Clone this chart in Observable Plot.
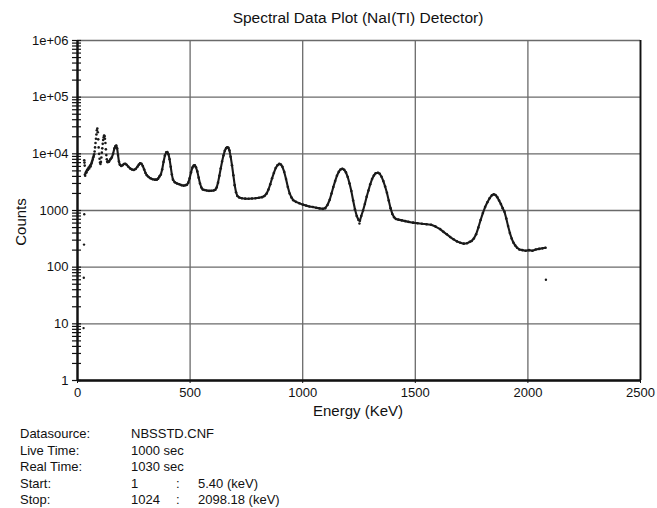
<!DOCTYPE html>
<html><head><meta charset="utf-8">
<script src="https://cdn.jsdelivr.net/npm/d3@7"></script>
<script src="https://cdn.jsdelivr.net/npm/@observablehq/plot@0.6"></script>
<style>
body{margin:0;background:#fff;font-family:"Liberation Sans",Arial,Helvetica,sans-serif;color:#111}
#wrap{position:relative;width:657px;height:508px;overflow:hidden}
.t{position:absolute;white-space:nowrap;line-height:16px}
#chart{position:absolute;left:0;top:0}
</style></head><body><div id="wrap"><div id="chart"></div></div>
<script>
// ---- text ----
const title = "Spectral Data Plot (NaI(TI) Detector)";
const xTitle = "Energy (KeV)";
const yTitle = "Counts";
const infoLabels = ["Datasource:", "Live Time:", "Real Time:", "Start:", "Stop:"];
const infoValues = ["NBSSTD.CNF", "1000 sec", "1030 sec", "1", "1024"];
const infoColons = ["", "", "", ":", ":"];
const infoEnergies = ["", "", "", "5.40 (keV)", "2098.18 (keV)"];

// ---- axes ----
const xTicks = [0, 500, 1000, 1500, 2000, 2500];
const xLabels = ["0", "500", "1000", "1500", "2000", "2500"];
const yMajor = [1, 10, 100, 1000, 10000, 100000, 1000000];
const yLabels = ["1", "10", "100", "1000", "1e+04", "1e+05", "1e+06"];
const yMinor = [2,3,4,5,6,7,8,9, 20,30,40,50,60,70,80,90, 200,300,400,500,600,700,800,900,
  2000,3000,4000,5000,6000,7000,8000,9000, 20000,30000,40000,50000,60000,70000,80000,90000,
  200000,300000,400000,500000,600000,700000,800000,900000];

// ---- data: isolated low channels & last channel ----
const strayE = [27, 28, 29, 30, 1252, 2080];
const strayC = [8.4, 65, 250, 860, 590, 60];

// ---- data: X-ray region (scattered dots) ----
const xrayE = [30,31,32,33,34,36,38,40,42,44,46,48,50,52,54,56,58,60,62,64,66,68,70,72,74,76,78,80,82,84,86,88,90,92,94,96,98,100,102,104,106,108,110,112,114,116,118,120,122,124,126,128,130,132,134,136];
const xrayC = [7700,7000,6200,4300,4100,4600,4800,4700,5100,5300,5200,5500,5700,5500,5900,6200,6000,6500,6800,7200,7600,8100,8700,9200,9800,11000,13000,15500,18500,22000,26000,28000,24000,18000,13000,10000,8200,7000,6600,7200,8600,10500,12500,15000,17500,19500,21000,20500,18500,15500,12000,9500,8000,7300,7100,7300];

// ---- data: main spectrum ----
const specE = [136,140,146,152,158,164,168,172,176,180,184,188,194,200,206,212,218,226,234,242,250,258,266,272,278,284,290,296,302,308,316,324,334,344,352,358,364,370,376,382,388,394,399,404,409,414,419,424,432,442,452,462,472,480,486,492,498,504,510,516,521,526,532,538,544,550,556,564,574,584,594,604,612,618,624,630,636,642,648,654,660,665,670,675,680,686,692,698,704,710,718,730,745,760,775,790,805,820,830,840,848,856,864,872,880,888,896,903,910,918,926,934,942,950,958,970,985,1000,1015,1030,1045,1060,1075,1090,1100,1110,1120,1128,1136,1144,1152,1160,1168,1176,1184,1192,1200,1208,1216,1224,1232,1240,1248,1254,1260,1268,1276,1284,1292,1300,1308,1316,1324,1334,1342,1350,1358,1366,1374,1382,1390,1398,1406,1414,1425,1440,1455,1470,1490,1510,1530,1550,1570,1590,1610,1625,1640,1655,1670,1685,1700,1715,1730,1742,1750,1760,1770,1780,1790,1800,1810,1820,1830,1840,1848,1856,1864,1872,1880,1888,1896,1904,1912,1920,1928,1936,1944,1952,1962,1975,1990,2005,2020,2035,2050,2065,2078];
const specC = [7300,7300,8000,8600,10000,12500,13600,14000,12500,9500,7300,6400,6100,6300,6600,6700,6400,5900,5500,5300,5200,5400,5900,6400,6800,6700,6100,5300,4600,4200,3900,3700,3550,3500,3500,3650,4000,4300,5300,7200,9300,10600,10700,9800,8000,5900,4300,3500,3150,3000,2900,2800,2750,2800,2850,3100,3700,4700,5700,6200,6250,5800,4900,3800,3000,2550,2350,2300,2250,2220,2230,2250,2330,2550,3100,4100,5500,7300,9300,11300,12600,13100,12800,11400,8900,6300,4200,2800,2100,1800,1700,1650,1620,1610,1630,1650,1680,1720,1800,2000,2350,2900,3700,4600,5600,6300,6650,6500,5900,4800,3600,2600,2000,1700,1520,1420,1340,1270,1220,1180,1150,1120,1090,1070,1100,1250,1550,2000,2600,3300,4100,4800,5300,5450,5250,4700,3900,3000,2200,1500,1050,800,680,660,800,1000,1300,1750,2250,2900,3600,4150,4550,4650,4450,3950,3300,2650,2050,1500,1100,870,760,710,690,670,650,630,610,595,582,572,560,520,470,420,380,340,310,285,270,260,265,280,290,320,380,500,680,900,1150,1400,1650,1850,1930,1880,1720,1500,1300,1100,950,720,530,400,320,270,240,220,205,200,195,200,195,205,210,215,220];

const spec = specE.map((e, i) => ({e, c: specC[i]}));
const xray = xrayE.map((e, i) => ({e, c: xrayC[i]}));
const stray = strayE.map((e, i) => ({e, c: strayC[i]}));
const yLabelMap = new Map(yMajor.map((v, i) => [v, yLabels[i]]));
const xLabelMap = new Map(xTicks.map((v, i) => [v, xLabels[i]]));
const ink = "#1a1a1a";
const gridCol = "#6a6a6a";

const chart = Plot.plot({
  width: 657, height: 420,
  marginLeft: 77, marginRight: 17, marginTop: 40, marginBottom: 40,
  style: {fontFamily: "'Liberation Sans', Arial, Helvetica, sans-serif", fontSize: "13px", color: "#111", background: "transparent", overflow: "visible"},
  x: {domain: [0, 2500]},
  y: {type: "log", domain: [1, 1e6]},
  marks: [
    Plot.gridY(yMajor, {stroke: gridCol, strokeOpacity: 1, strokeWidth: 1.3}),
    Plot.gridX(xTicks, {stroke: gridCol, strokeOpacity: 1, strokeWidth: 1.3}),
    Plot.axisY(yMinor.concat(yMajor), {tickSize: 9, insetLeft: 4, tickFormat: () => "", label: null, stroke: "#111", strokeWidth: 1.2}),
    Plot.axisY(yMajor, {tickSize: 0, tickPadding: 9, tickFormat: d => yLabelMap.get(d), label: null, fill: "#111"}),
    Plot.axisX(xTicks, {tickSize: 3, tickPadding: 4, tickFormat: d => xLabelMap.get(d), label: null, stroke: "#111", fill: "#111"}),
    Plot.ruleX([2500], {stroke: "#111", strokeWidth: 1.8}),
    Plot.ruleX([0], {stroke: "#111", strokeWidth: 2.4}),
    Plot.ruleY([1], {stroke: "#111", strokeWidth: 2.4}),
    Plot.line(spec, {x: "e", y: "c", stroke: ink, strokeWidth: 2.1}),
    Plot.dot(spec, {x: "e", y: "c", r: 1.3, fill: ink, stroke: null}),
    Plot.dot(xray, {x: "e", y: "c", r: 1.3, fill: ink, stroke: null}),
    Plot.dot(stray, {x: "e", y: "c", r: 1.2, fill: ink, stroke: null})
  ]
});
document.getElementById("chart").appendChild(chart);

const wrap = document.getElementById("wrap");
function addText(txt, left, top, style) {
  const d = document.createElement("div");
  d.className = "t";
  d.textContent = txt;
  d.style.left = left + "px";
  d.style.top = top + "px";
  Object.assign(d.style, style || {});
  wrap.appendChild(d);
  return d;
}
addText(title, 358, 10, {fontSize: "15.5px", transform: "translateX(-50%)"});
addText(xTitle, 358, 403, {fontSize: "15px", transform: "translateX(-50%)"});
addText(yTitle, 21, 222, {fontSize: "15px", transform: "translate(-50%,-50%) rotate(-90deg)"});
infoLabels.forEach((lab, i) => {
  const top = 426 + i * 16.6;
  addText(lab, 20, top, {fontSize: "13px"});
  addText(infoValues[i], 131, top, {fontSize: "13px"});
  if (infoColons[i]) addText(infoColons[i], 176, top, {fontSize: "13px"});
  if (infoEnergies[i]) addText(infoEnergies[i], 198, top, {fontSize: "13px"});
});
</script>
</body></html>
